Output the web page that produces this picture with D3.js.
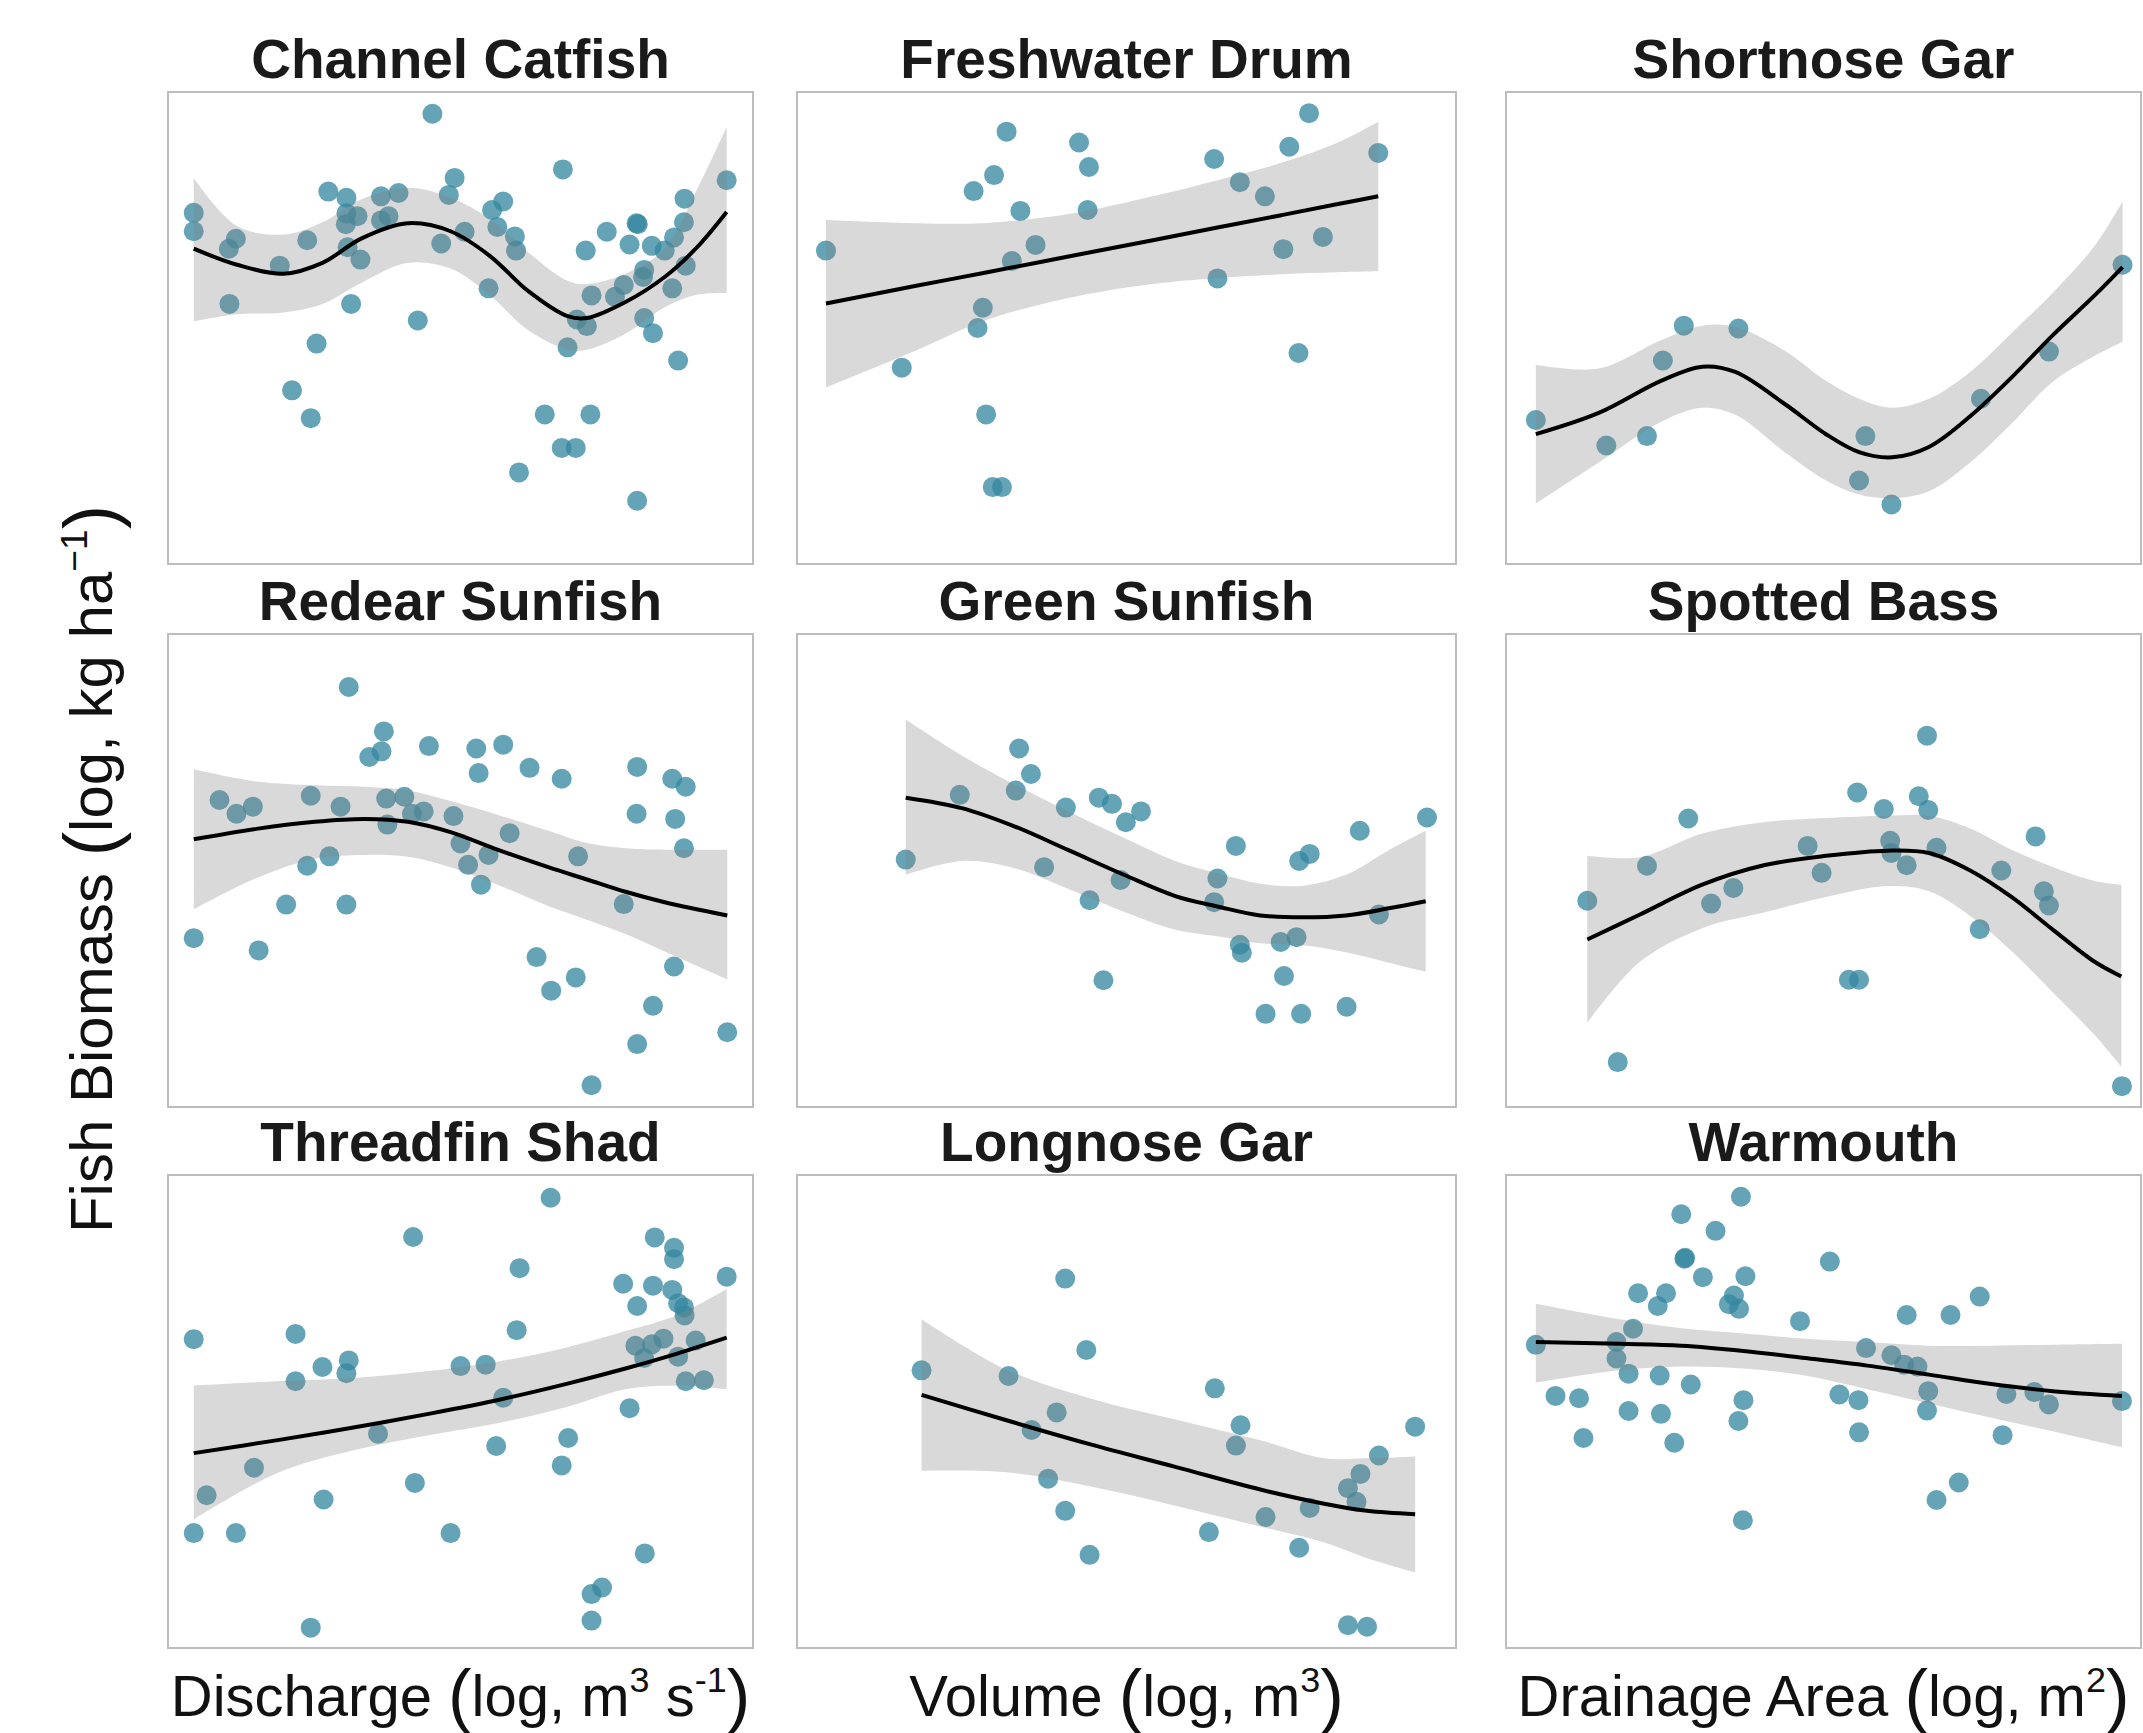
<!DOCTYPE html>
<html>
<head>
<meta charset="utf-8">
<script src="https://cdn.jsdelivr.net/npm/d3@7"></script>
<style>
  body { margin: 0; background: #fff; }
  svg { display: block; }
</style>
</head>
<body>
<svg id="chart" width="2143" height="1733"></svg>
<script>
// Species shown, row by row (rows share predictor: discharge, volume, drainage area by column)
const species = [
  "Channel Catfish", "Freshwater Drum", "Shortnose Gar",
  "Redear Sunfish", "Green Sunfish", "Spotted Bass",
  "Threadfin Shad", "Longnose Gar", "Warmouth"
];

// Observations (predictor, biomass), both expressed as % of the plotted range
const channelCatfishX = [4.4,4.4,10.4,11.6,10.5,19.1,23.8,27.4,30.5,30.5,32.4,30.4,30.7,32.9,31.3,25.4,21.2,24.4,36.4,39.4,36.4,37.7,45.2,49.0,48.0,46.7,50.7,42.7,55.4,57.3,56.3,59.3,59.5,54.8,67.5,71.4,75.0,80.1,80.3,78.9,82.7,84.9,86.5,88.2,88.3,95.5,88.5,86.2,81.4,81.2,77.9,76.4,72.4,69.9,71.6,68.3,81.4,82.9,87.2,64.4,72.2,67.3,69.7,60.0,80.2];
const channelCatfishY = [74.4,70.5,66.8,68.9,55.1,63.2,68.6,78.9,77.6,74.3,73.7,72.0,67.1,64.5,55.1,46.7,36.8,30.9,77.9,78.6,72.8,73.7,95.4,81.8,78.2,67.9,70.4,51.6,75.0,76.8,71.4,69.4,66.4,58.4,83.6,66.4,70.4,72.2,72.0,67.7,67.4,66.4,69.2,72.4,77.4,81.3,63.2,58.4,62.3,60.8,59.1,56.6,56.9,51.8,50.4,45.9,52.1,48.9,43.1,31.7,31.7,24.6,24.6,19.4,13.4];

const freshwaterDrumX = [4.4,15.9,26.8,29.9,31.8,33.9,36.2,32.6,28.2,27.4,28.7,29.7,31.1,42.8,44.3,44.1,63.3,63.8,67.2,71.0,74.7,77.7,73.8,79.8,76.1,88.2];
const freshwaterDrumY = [66.4,41.6,79.0,82.4,91.6,74.8,67.6,64.2,54.3,50.0,31.7,16.3,16.3,89.3,84.1,75.0,85.8,60.5,80.9,77.9,88.4,95.5,66.7,69.3,44.7,87.1];

const shortnoseGarX = [4.7,15.8,22.2,24.7,28.0,36.6,56.6,55.6,60.7,74.8,85.5,97.1];
const shortnoseGarY = [30.5,25.1,27.1,43.1,50.5,49.9,27.1,17.7,12.6,35.0,45.0,63.4];

const redearSunfishX = [4.4,8.8,11.7,14.5,15.5,20.2,23.8,24.4,27.6,29.5,30.5,30.9,34.4,36.5,36.9,37.3,37.5,40.4,41.7,43.7,44.6,48.8,50.0,51.3,52.7,53.1,54.8,53.5,57.3,58.4,61.8,63.0,65.5,67.3,69.7,70.1,72.4,77.9,80.2,80.1,80.2,82.9,86.2,88.5,86.7,88.2,86.5,95.6];
const redearSunfishY = [35.7,64.9,62.0,63.5,33.1,42.8,51.0,65.8,53.0,63.5,42.8,88.8,74.0,75.2,79.4,65.2,59.7,65.6,62.0,62.5,76.3,61.5,55.7,51.2,75.8,70.6,53.3,47.0,76.6,57.9,71.7,31.7,24.6,69.4,27.4,53.0,4.6,42.9,71.9,62.0,13.3,21.4,69.4,67.7,60.9,54.7,29.7,15.8];

const greenSunfishX = [16.5,24.7,33.2,33.7,35.5,40.8,37.5,44.4,46.5,45.8,47.8,49.9,52.2,49.1,66.6,63.8,63.3,67.2,67.5,71.1,73.4,75.8,73.9,76.2,77.8,76.5,83.4,85.4,88.3,95.6];
const greenSunfishY = [52.3,66.0,66.9,75.8,70.4,63.3,50.7,43.7,26.8,65.4,64.1,60.2,62.5,48.0,55.2,48.3,43.3,34.3,32.6,19.7,34.9,35.9,27.7,52.0,53.5,19.7,21.2,58.4,40.7,61.2];

const spottedBassX = [12.8,17.6,22.2,28.7,32.3,35.8,47.5,49.7,55.3,54.0,55.6,59.5,60.5,60.7,63.1,65.0,66.5,66.3,67.8,74.6,78.0,83.4,84.7,85.5,97.0];
const spottedBassY = [43.6,9.5,51.0,61.0,43.0,46.3,55.2,49.5,66.5,26.9,26.9,63.0,56.3,53.7,51.1,65.7,62.8,78.5,54.8,37.6,50.0,57.2,45.6,42.6,4.4];

const threadfinShadX = [4.4,4.4,6.6,11.6,14.7,21.8,21.8,24.4,26.4,26.6,30.9,30.5,35.9,41.9,42.2,48.3,50.0,54.3,56.1,57.3,59.6,60.1,65.4,67.3,68.4,72.4,74.2,72.4,77.8,80.2,78.9,81.5,79.9,81.4,82.7,82.9,83.2,84.7,86.2,86.5,86.5,87.2,88.2,88.3,87.2,88.5,90.2,91.6,95.5];
const threadfinShadY = [65.3,24.3,32.3,24.3,38.1,66.4,56.4,4.3,59.4,31.4,60.8,58.1,45.3,86.9,34.9,24.3,59.6,59.9,42.7,52.9,67.2,80.3,95.2,38.6,44.4,11.4,12.8,5.8,77.0,72.3,50.7,20.0,63.9,61.3,64.2,76.6,86.8,65.4,75.7,84.6,82.2,72.9,72.0,70.3,61.6,56.4,65.0,56.6,78.5];

const longnoseGarX = [18.9,32.1,35.6,39.4,38.1,40.7,40.7,43.9,44.4,62.5,63.4,66.6,67.3,71.1,76.2,77.8,83.6,84.9,85.5,88.3,93.8,83.6,86.5];
const longnoseGarY = [58.7,57.5,46.1,49.8,35.8,78.1,29.0,63.0,19.7,24.5,54.9,42.8,47.1,27.7,21.2,29.6,33.8,30.9,36.8,40.7,46.8,4.8,4.5];

const warmouthX = [4.7,7.8,11.5,12.2,17.4,17.4,20.0,19.3,19.3,20.8,23.9,25.2,24.2,24.4,26.5,27.6,28.1,28.2,29.1,31.0,33.0,35.1,35.9,36.7,37.0,37.7,37.4,36.6,37.3,46.3,51.0,52.5,55.5,55.6,56.7,60.7,62.7,63.1,64.8,66.5,66.3,67.8,70.0,71.3,74.6,78.2,78.8,83.2,85.5,97.0];
const warmouthY = [64.1,53.3,52.8,44.4,64.7,61.2,67.5,58.0,50.1,75.0,72.3,75.0,57.6,49.5,43.4,91.7,82.3,82.5,55.7,78.4,88.2,72.7,74.5,71.7,95.4,78.6,52.4,48.0,27.0,69.1,81.7,53.6,52.4,45.6,63.4,61.9,59.9,70.4,59.5,54.3,50.2,31.3,70.4,35.0,74.3,45.0,53.7,54.1,51.5,52.2];

// Smoothed fits: evaluation points, fitted value and confidence band (upper / lower)
const channelCatfishSmoothX = [4.4,11.8,19.8,26.4,33.1,41.0,48.3,55.0,61.6,68.3,71.6,78.2,84.9,90.2,95.5];
const channelCatfishFit     = [66.8,63.4,61.5,63.8,69.0,72.2,70.5,65.3,57.8,52.5,52.1,55.5,60.8,66.8,74.6];
const channelCatfishUpper   = [81.8,71.6,69.8,72.4,77.3,79.7,77.6,73.1,66.0,60.0,59.3,61.5,66.8,78.8,92.6];
const channelCatfishLower   = [51.4,52.9,53.3,55.1,59.6,63.8,62.6,57.0,49.5,45.4,45.4,48.8,54.4,57.0,57.4];

const freshwaterDrumSmoothX = [4.4,18.3,28.1,41.0,54.0,63.8,73.5,81.9,88.2];
const freshwaterDrumFit     = [55.2,59.0,61.6,65.1,68.6,71.3,73.9,76.2,77.9];
const freshwaterDrumUpper   = [72.9,72.2,72.2,74.1,77.9,81.3,85.0,89.2,93.7];
const freshwaterDrumLower   = [37.4,45.4,51.4,56.3,59.3,60.6,61.4,61.8,62.0];

const shortnoseGarSmoothX = [4.7,14.6,24.4,30.9,36.1,43.9,50.4,55.6,60.8,66.6,73.1,79.6,86.2,92.7,97.1];
const shortnoseGarFit     = [27.5,32.0,38.8,41.8,40.7,33.9,27.5,23.7,22.6,24.8,31.3,39.5,48.6,56.9,62.9];
const shortnoseGarUpper   = [42.2,41.4,47.4,50.5,50.2,45.2,38.8,35.0,33.1,35.0,40.7,48.9,57.6,67.4,76.8];
const shortnoseGarLower   = [12.8,21.5,30.1,33.1,31.6,23.7,17.7,14.7,13.9,15.4,21.5,29.7,38.7,44.1,47.1];

const redearSunfishSmoothX = [4.4,15.1,25.1,33.7,41.0,48.3,56.3,65.0,71.6,78.2,84.9,95.6];
const redearSunfishFit     = [56.6,58.8,60.3,60.9,60.3,58.1,54.4,50.7,48.1,45.5,43.3,40.5];
const redearSunfishUpper   = [71.4,68.8,68.0,67.7,66.9,64.7,61.8,58.4,55.8,54.7,54.4,54.4];
const redearSunfishLower   = [41.8,48.4,52.5,53.3,52.9,50.7,47.0,42.5,39.6,36.6,32.9,27.0];

const greenSunfishSmoothX = [16.5,25.0,32.7,41.2,49.6,57.4,63.8,70.3,76.8,83.3,89.8,95.4];
const greenSunfishFit     = [65.4,63.2,59.5,54.3,49.1,44.6,42.4,40.5,40.1,40.5,42.0,43.5];
const greenSunfishUpper   = [81.9,74.3,68.4,62.5,56.9,52.0,49.4,47.2,46.8,49.1,54.3,58.4];
const greenSunfishLower   = [49.1,52.0,50.6,46.1,41.3,37.5,36.1,34.6,34.2,32.7,30.5,28.6];

const spottedBassSmoothX = [12.8,21.1,30.9,40.6,50.4,60.1,66.6,73.1,79.6,86.2,92.7,96.9];
const spottedBassFit     = [35.4,40.7,47.0,51.1,53.1,54.2,53.7,50.0,44.4,37.4,30.7,27.6];
const spottedBassUpper   = [53.1,52.8,57.8,60.2,61.1,61.6,61.6,58.9,54.4,50.7,47.8,47.0];
const spottedBassLower   = [17.8,30.7,37.8,41.1,44.4,46.7,45.6,40.4,33.0,24.1,15.2,8.5];

const threadfinShadSmoothX = [4.4,18.5,31.7,45.0,57.0,68.3,78.2,86.9,95.5];
const threadfinShadFit     = [41.2,43.9,46.6,49.6,52.6,55.9,59.1,62.2,65.6];
const threadfinShadUpper   = [55.5,56.4,57.1,58.6,60.7,63.6,67.0,70.3,75.9];
const threadfinShadLower   = [27.2,36.9,41.8,45.1,47.7,51.0,54.7,55.5,54.7];

const longnoseGarSmoothX = [18.9,31.4,44.4,57.4,70.3,80.0,86.5,93.8];
const longnoseGarFit     = [53.5,48.3,43.1,38.3,33.5,30.5,29.0,28.3];
const longnoseGarUpper   = [69.5,59.1,52.8,48.3,43.9,40.1,40.1,40.5];
const longnoseGarLower   = [37.5,37.2,34.2,30.1,25.7,22.3,19.0,16.0];

const warmouthSmoothX = [4.7,17.9,27.6,37.4,47.1,56.9,66.6,76.4,86.1,97.0];
const warmouthFit     = [64.7,64.3,63.9,62.8,61.3,59.7,57.8,55.8,54.3,53.3];
const warmouthUpper   = [72.8,69.5,67.6,66.5,65.4,64.7,63.9,63.9,64.1,64.3];
const warmouthLower   = [56.1,58.7,59.5,59.1,57.6,54.7,51.7,48.7,45.8,42.4];

// Axis titles (one per column, plus the shared y title)
const xTitles = [
  [["Discharge "], ["(", "paren"], ["log, m"], ["3", "sup"], [" s"], ["-1", "sup"], [")", "paren"]],
  [["Volume "], ["(", "paren"], ["log, m"], ["3", "sup"], [")", "paren"]],
  [["Drainage Area "], ["(", "paren"], ["log, m"], ["2", "sup"], [")", "paren"]]
];
const yTitle = [["Fish Biomass "], ["(", "paren"], ["log, kg ha"], ["\u22121", "sup"], [")", "paren"]];

// ---- assemble panel table ----
const panels = [
  {x: channelCatfishX, y: channelCatfishY, sx: channelCatfishSmoothX, fit: channelCatfishFit, hi: channelCatfishUpper, lo: channelCatfishLower},
  {x: freshwaterDrumX, y: freshwaterDrumY, sx: freshwaterDrumSmoothX, fit: freshwaterDrumFit, hi: freshwaterDrumUpper, lo: freshwaterDrumLower},
  {x: shortnoseGarX, y: shortnoseGarY, sx: shortnoseGarSmoothX, fit: shortnoseGarFit, hi: shortnoseGarUpper, lo: shortnoseGarLower},
  {x: redearSunfishX, y: redearSunfishY, sx: redearSunfishSmoothX, fit: redearSunfishFit, hi: redearSunfishUpper, lo: redearSunfishLower},
  {x: greenSunfishX, y: greenSunfishY, sx: greenSunfishSmoothX, fit: greenSunfishFit, hi: greenSunfishUpper, lo: greenSunfishLower},
  {x: spottedBassX, y: spottedBassY, sx: spottedBassSmoothX, fit: spottedBassFit, hi: spottedBassUpper, lo: spottedBassLower},
  {x: threadfinShadX, y: threadfinShadY, sx: threadfinShadSmoothX, fit: threadfinShadFit, hi: threadfinShadUpper, lo: threadfinShadLower},
  {x: longnoseGarX, y: longnoseGarY, sx: longnoseGarSmoothX, fit: longnoseGarFit, hi: longnoseGarUpper, lo: longnoseGarLower},
  {x: warmouthX, y: warmouthY, sx: warmouthSmoothX, fit: warmouthFit, hi: warmouthUpper, lo: warmouthLower}
].map((p, i) => Object.assign(p, {name: species[i], row: Math.floor(i / 3), col: i % 3}));

// ---- layout ----
const colSpan = [[168, 753], [797, 1456], [1506, 2141]];
const rowSpan = [[92, 564], [634, 1107], [1175, 1648]];
const FONT = "'Liberation Sans', Arial, Helvetica, sans-serif";
const DOT = "#35879f";

const svg = d3.select("#chart");
svg.append("rect").attr("width", 2143).attr("height", 1733).attr("fill", "#fff");

panels.forEach(p => {
  const [x0, x1] = colSpan[p.col];
  const [y0, y1] = rowSpan[p.row];
  const xs = d3.scaleLinear().domain([0, 100]).range([x0, x1]);
  const ys = d3.scaleLinear().domain([0, 100]).range([y1, y0]);
  const g = svg.append("g");

  // scatter
  g.selectAll("circle").data(d3.range(p.x.length)).join("circle")
    .attr("cx", i => xs(p.x[i]))
    .attr("cy", i => ys(p.y[i]))
    .attr("r", 10)
    .attr("fill", DOT)
    .attr("fill-opacity", 0.76);

  const idx = d3.range(p.sx.length);
  const curve = d3.curveCatmullRom.alpha(0.5);

  // confidence band, drawn over the points
  g.append("path")
    .attr("d", d3.area().curve(curve)
      .x(i => xs(p.sx[i])).y0(i => ys(p.lo[i])).y1(i => ys(p.hi[i]))(idx))
    .attr("fill", "#808080").attr("fill-opacity", 0.3);

  // fitted line
  g.append("path")
    .attr("d", d3.line().curve(curve).x(i => xs(p.sx[i])).y(i => ys(p.fit[i]))(idx))
    .attr("fill", "none").attr("stroke", "#000").attr("stroke-width", 4);

  // frame
  g.append("rect")
    .attr("x", x0).attr("y", y0).attr("width", x1 - x0).attr("height", y1 - y0)
    .attr("fill", "none").attr("stroke", "#bdbdbd").attr("stroke-width", 2);

  // title
  svg.append("text")
    .attr("x", (x0 + x1) / 2).attr("y", y0 - 14)
    .attr("text-anchor", "middle")
    .attr("font-family", FONT).attr("font-weight", "bold").attr("font-size", 55)
    .attr("fill", "#1a1a1a")
    .text(p.name);
});

// rich text helper: plain runs, superscripts and enlarged parentheses
function richText(textSel, parts, size) {
  let shift = 0;
  parts.forEach(([t, kind]) => {
    const ts = textSel.append("tspan").text(t);
    let target = 0;
    if (kind === "sup") { ts.attr("font-size", size * 0.62); target = -size * 0.42; }
    else if (kind === "paren") { ts.attr("font-size", size * 1.22); target = size * 0.06; }
    ts.attr("dy", target - shift);
    shift = target;
  });
}

xTitles.forEach((parts, c) => {
  const [x0, x1] = colSpan[c];
  const t = svg.append("text")
    .attr("x", (x0 + x1) / 2).attr("y", 1716)
    .attr("text-anchor", "middle")
    .attr("font-family", FONT).attr("font-size", 58).attr("fill", "#111");
  richText(t, parts, 58);
});

const yt = svg.append("text")
  .attr("transform", "translate(112,869) rotate(-90)")
  .attr("text-anchor", "middle")
  .attr("font-family", FONT).attr("font-size", 60).attr("fill", "#111");
richText(yt, yTitle, 60);
</script>
</body>
</html>
